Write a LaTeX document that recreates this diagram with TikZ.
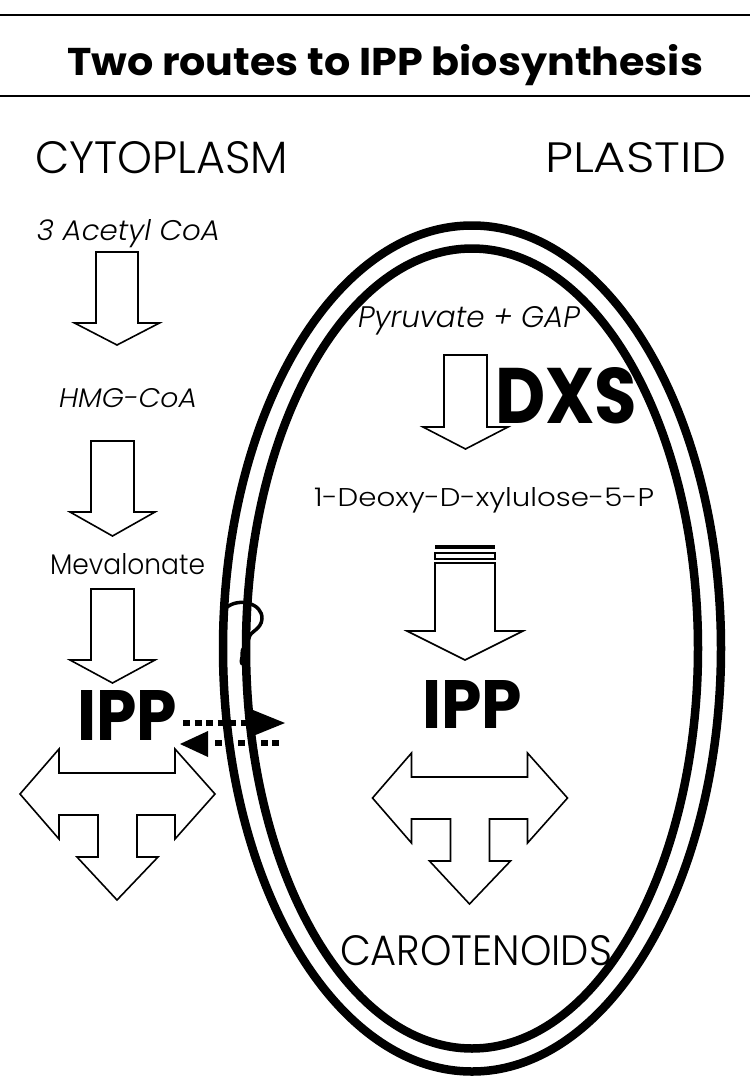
\documentclass[tikz,border=0pt]{standalone}
\usepackage{fontspec}
\setmainfont{Poppins}
\newfontfamily\lightfont{Poppins}[UprightFont={* Light}, ItalicFont={* Light Italic}]
\usepackage{graphicx}
% stretch a piece of text to a given width and height (in pt)
\newcommand{\fitto}[3]{\resizebox{#1pt}{#2pt}{#3}}
\tikzset{
  txt/.style={inner sep=0pt, outer sep=0pt, anchor=base west},
  blockarrow/.style={draw=black, line width=1.6pt, line join=miter},
  membrane/.style={draw=black, line width=8.5pt},
  dots/.style={line width=6.5pt, dash pattern=on 7pt off 4.5pt},
  rule/.style={draw=black, line width=1.3pt},
}
% hollow downward block arrow: centre x, top y, half shaft, head base y, half head, tip y
\newcommand{\blockdown}[6]{%
  \draw[blockarrow] ({#1-#3},#2) -- ({#1+#3},#2) -- ({#1+#3},#4) -- ({#1+#5},#4)
    -- (#1,#6) -- ({#1-#5},#4) -- ({#1-#3},#4) -- cycle;}
% three-way (left, right, down) hollow arrow
\newcommand{\threeway}{%
  \draw[blockarrow] (59,773) -- (175,773) -- (175,749) -- (215,794) -- (175,839)
    -- (175,815) -- (137,815) -- (137,857) -- (158,857) -- (117,900) -- (77,857)
    -- (98,857) -- (98,815) -- (59,815) -- (59,839) -- (20,794) -- (59,749) -- cycle;}
\begin{document}
\begin{tikzpicture}[x=1pt,y=-1pt]
\useasboundingbox[fill=white] (0,0) rectangle (750,1082);

% heading rules
\coordinate (r1a) at (0,15);  \coordinate (r1b) at (750,15);
\coordinate (r2a) at (0,96);  \coordinate (r2b) at (750,96);
\draw[rule] (r1a) -- (r1b);
\draw[rule] (r2a) -- (r2b);

% plastid envelope: two membranes
\coordinate (plastidc) at (472,648.5);
\draw[membrane] (plastidc) ellipse [x radius=249, y radius=423];
\draw[membrane] (plastidc) ellipse [x radius=226, y radius=400];

% transporter hook in the envelope
\draw[line width=3.5pt, line cap=round, line join=round]
  (226,608) .. controls (238,597) and (263,603) .. (262,619)
  .. controls (261,630) and (250,631) .. (249,638)
  .. controls (248,645) and (241,648) .. (242,654)
  .. controls (243,658) and (240,660) .. (242,664);

% cytoplasmic (mevalonate) route
\blockdown{117}{252}{21}{323}{42.5}{345}
\blockdown{112.5}{441}{21.5}{512}{42.5}{536}
\blockdown{112.5}{589}{21.5}{660}{42.5}{683}
\threeway

% plastid (DXP) route
\blockdown{465.5}{355}{21.5}{427}{42.5}{449}
\draw[line width=4pt] (435,546.5) -- (495,546.5);
\draw[line width=1.6pt] (435,553) rectangle (495,559);
\blockdown{465}{563}{30}{631}{58}{660}
\begin{scope}[shift={(352.5,4)}]
  \threeway
\end{scope}

% labels
\node[txt] (title) at (67,75) {\fitto{636}{31}{\bfseries Two routes to IPP biosynthesis}};
\node[txt] (cyto) at (35,173) {\fitto{253}{32}{\lightfont CYTOPLASM}};
\node[txt] (plastid) at (545,172) {\fitto{182}{30}{\lightfont PLASTID}};
\node[txt] (acetyl) at (37,240) {\fitto{183}{21}{\lightfont\itshape 3 Acetyl CoA}};
\node[txt] (hmg) at (59,407) {\fitto{138}{19}{\lightfont\itshape HMG-CoA}};
\node[txt] (meva) at (50,574) {\fitto{155}{21}{\lightfont Mevalonate}};
\node[txt] (pyr) at (358,327) {\fitto{222}{21}{\lightfont\itshape Pyruvate + GAP}};
\node[txt] (dxs) at (495,423) {\fitto{142}{56}{\bfseries DXS}};
\node[txt] (dxp) at (314,506) {\fitto{340}{19}{\lightfont 1-Deoxy-D-xylulose-5-P}};
\node[txt] (ippL) at (77,740) {\fitto{100}{50}{\bfseries IPP}};
\node[txt] (ippR) at (422,728) {\fitto{100}{48}{\bfseries IPP}};
\node[txt] (carot) at (340,965) {\fitto{272}{30}{\lightfont CAROTENOIDS}};

% IPP exchange across the envelope
\coordinate (outA) at (183,723);
\coordinate (outB) at (252,723);
\draw[dots] (outA) -- (outB);
\fill (253,710) -- (285,723) -- (253,736) -- cycle;
\coordinate (inA) at (279,743);
\coordinate (inB) at (210,743);
\draw[dots] (inA) -- (inB);
\fill (180,744) -- (208,731) -- (208,757) -- cycle;
\end{tikzpicture}
\end{document}
